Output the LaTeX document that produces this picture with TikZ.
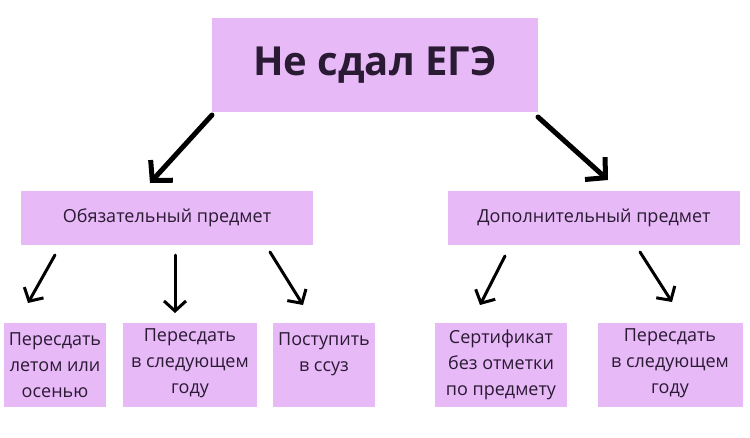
\documentclass[tikz,border=0pt]{standalone}
\usepackage{fontspec}
\setmainfont{Open Sans}
\usetikzlibrary{arrows.meta}
\definecolor{boxpink}{HTML}{E7B9F7}
\definecolor{boxtext}{HTML}{2A1A33}
\tikzset{
  box/.style={fill=boxpink, inner sep=0pt, text=boxtext, align=center},
  bigarrow/.style={line width=5pt, line cap=round, -{Straight Barb[length=14pt, width=30pt, line width=5pt]}},
  smallarrow/.style={line width=3pt, line cap=round, -{Straight Barb[length=10pt, width=22pt, line width=3pt]}}
}
\begin{document}
\begin{tikzpicture}[x=1pt, y=-1pt]
      \useasboundingbox (0, 0) rectangle (750, 437);
      \node [box, minimum width=326pt, minimum height=94pt, font=\fontsize{40}{48}\selectfont\bfseries] (ege) at (375, 65) {Не сдал ЕГЭ};
      \node [box, minimum width=292pt, minimum height=54pt, font=\fontsize{18}{22}\selectfont] (must) at (167, 218) {Обязательный предмет};
      \node [box, minimum width=292pt, minimum height=54pt, font=\fontsize{18}{22}\selectfont] (extra) at (594, 218) {Дополнительный предмет};
      \tikzset{leaf/.style={box, minimum height=84pt, font=\fontsize{18}{26}\selectfont}}
      \node [leaf, minimum width=102pt] (summer) at (55, 365) {Пересдать\\летом или\\осенью};
      \node [leaf, minimum width=134pt] (nexta) at (190, 365) {Пересдать\\в следующем\\году\strut};
      \node [leaf, minimum width=102pt, text depth=26pt] (college) at (324, 365) {Поступить\\в ссуз};
      \node [leaf, minimum width=132pt] (cert) at (501, 365) {Сертификат\\без отметки\\по предмету};
      \node [leaf, minimum width=145pt] (nextb) at (670, 365) {Пересдать\\в следующем\\году\strut};
      % arrows
      \coordinate (a1) at (150, 183);
      \coordinate (a2) at (608, 180);
      \draw [bigarrow] (212, 115) -- (a1);
      \draw [bigarrow] (538, 117) -- (a2);
      \draw [smallarrow] (55, 255) -- (28, 303);
      \draw [smallarrow] (175, 255) -- (175, 313);
      \draw [smallarrow] (270, 252) -- (303, 305);
      \draw [smallarrow] (505, 256) -- (480, 305);
      \draw [smallarrow] (640, 252) -- (672, 302);
    \end{tikzpicture}
\end{document}
